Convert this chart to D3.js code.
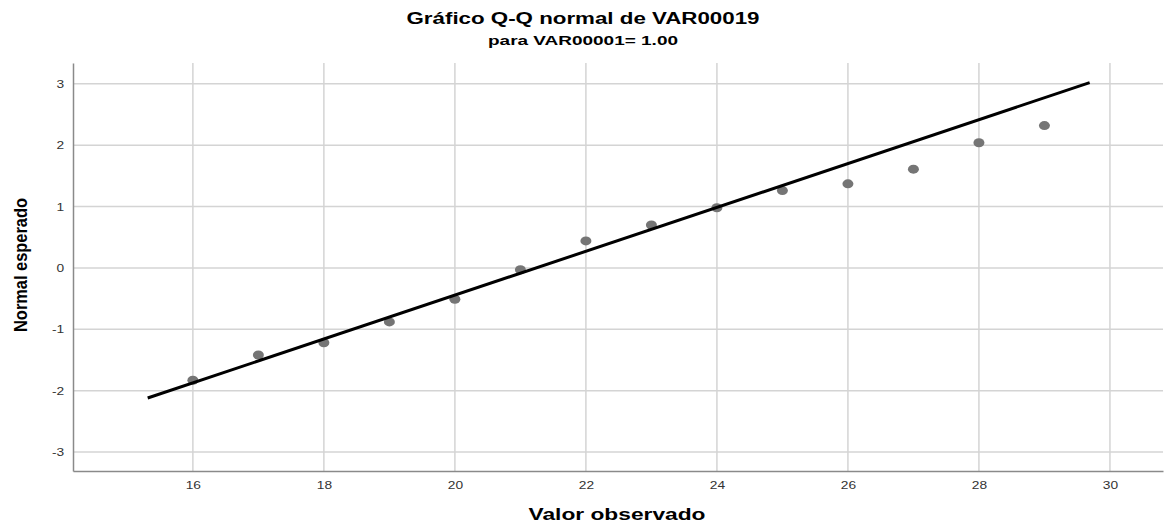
<!DOCTYPE html>
<html>
<head>
<meta charset="utf-8">
<script src="https://cdn.jsdelivr.net/npm/d3@7"></script>
<style>
  body { margin: 0; background: #fff; }
  text { font-family: "Liberation Sans", Arial, sans-serif; }
</style>
</head>
<body>
<div id="chart"></div>
<script>
// observed values and expected normal quantiles
const observed = [16, 17, 18, 19, 20, 21, 22, 23, 24, 25, 26, 27, 28, 29]
const expected = [-1.83, -1.42, -1.22, -0.88, -0.51, -0.03, 0.44, 0.70, 0.98, 1.26, 1.37, 1.61, 2.04, 2.32]
// reference line end points
const lineX = [15.31, 29.69]
const lineY = [-2.12, 3.02]
const xTicks = [16, 18, 20, 22, 24, 26, 28, 30]
const yTicks = [-3, -2, -1, 0, 1, 2, 3]

const width = 1165
const height = 525
const sx = 1.25 // horizontal stretch of the original picture

const svg = d3.select('#chart')
  .append('svg')
  .attr('width', width)
  .attr('height', height)

const plotLeft = 73, plotRight = 1163, plotTop = 63, plotBottom = 471

const x = d3.scaleLinear().domain([14.17, 30.81]).range([plotLeft, plotRight])
const y = d3.scaleLinear().domain([-3.31, 3.34]).range([plotBottom, plotTop])

// grid
svg.append('g').selectAll('line')
  .data(yTicks)
  .enter().append('line')
  .attr('x1', plotLeft).attr('x2', plotRight)
  .attr('y1', d => y(d)).attr('y2', d => y(d))
  .attr('stroke', '#d4d4d4').attr('stroke-width', 1.5)

svg.append('g').selectAll('line')
  .data(xTicks)
  .enter().append('line')
  .attr('x1', d => x(d)).attr('x2', d => x(d))
  .attr('y1', plotTop).attr('y2', plotBottom)
  .attr('stroke', '#d4d4d4').attr('stroke-width', 1.5)

// axes (plain hyphen for negatives, like the original)
const xAxis = svg.append('g')
  .attr('transform', 'translate(0,' + plotBottom + ')')
  .call(d3.axisBottom(x).tickValues(xTicks).tickSize(0).tickPadding(10).tickFormat(d => String(d)))
xAxis.select('.domain').attr('stroke', '#8a8a8a').attr('stroke-width', 1.5)
xAxis.selectAll('text')
  .attr('font-size', 11).attr('fill', '#333')
  .attr('font-family', '"Liberation Sans", Arial, sans-serif')
  .attr('transform', 'scale(' + sx + ',1)')

const yAxis = svg.append('g')
  .attr('transform', 'translate(' + plotLeft + ',0)')
  .call(d3.axisLeft(y).tickValues(yTicks).tickSize(0).tickPadding(7).tickFormat(d => String(d)))
yAxis.select('.domain').attr('stroke', '#8a8a8a').attr('stroke-width', 1.5)
yAxis.selectAll('text')
  .attr('font-size', 11).attr('fill', '#333')
  .attr('font-family', '"Liberation Sans", Arial, sans-serif')
  .attr('transform', 'scale(' + sx + ',1)')

// points
svg.append('g').selectAll('ellipse')
  .data(observed)
  .enter().append('ellipse')
  .attr('cx', d => x(d))
  .attr('cy', (d, i) => y(expected[i]))
  .attr('rx', 5.5)
  .attr('ry', 4.5)
  .attr('fill', '#757575')

// reference line
svg.append('line')
  .attr('x1', x(lineX[0])).attr('y1', y(lineY[0]))
  .attr('x2', x(lineX[1])).attr('y2', y(lineY[1]))
  .attr('stroke', '#000').attr('stroke-width', 3)

// titles
svg.append('text')
  .attr('x', 583).attr('y', 24)
  .attr('text-anchor', 'middle')
  .attr('font-size', 16).attr('font-weight', 'bold')
  .attr('textLength', 353).attr('lengthAdjust', 'spacingAndGlyphs')
  .text('Gráfico Q-Q normal de VAR00019')

svg.append('text')
  .attr('x', 583).attr('y', 45)
  .attr('text-anchor', 'middle')
  .attr('font-size', 12).attr('font-weight', 'bold')
  .attr('textLength', 190).attr('lengthAdjust', 'spacingAndGlyphs')
  .text('para VAR00001= 1.00')

svg.append('text')
  .attr('x', 617).attr('y', 520)
  .attr('text-anchor', 'middle')
  .attr('font-size', 17).attr('font-weight', 'bold')
  .attr('textLength', 177).attr('lengthAdjust', 'spacingAndGlyphs')
  .text('Valor observado')

svg.append('text')
  .attr('transform', 'translate(27,265) scale(1.15,1) rotate(-90)')
  .attr('text-anchor', 'middle')
  .attr('font-size', 16).attr('font-weight', 'bold')
  .attr('textLength', 134).attr('lengthAdjust', 'spacingAndGlyphs')
  .text('Normal esperado')
</script>
</body>
</html>
